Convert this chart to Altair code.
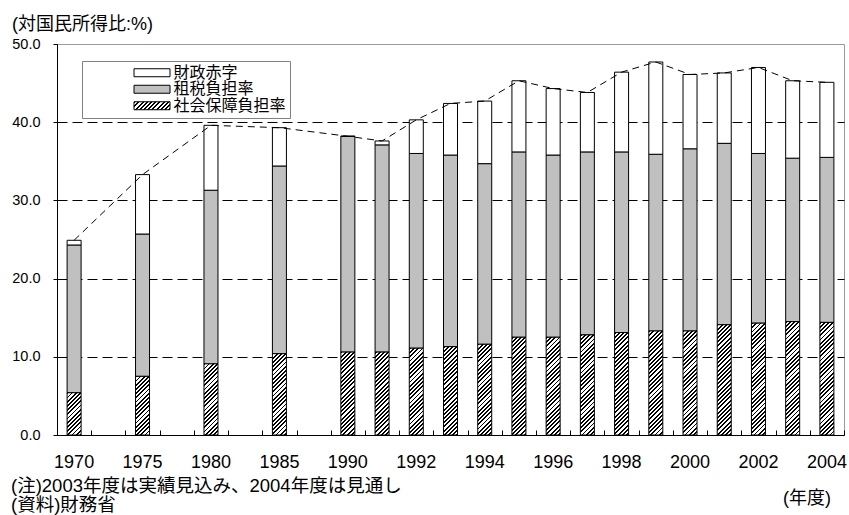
import json
import altair as alt

# ---------------- data ----------------
years = ["1970", "1975", "1980", "1985", "1990", "1991", "1992", "1993", "1994",
         "1995", "1996", "1997", "1998", "1999", "2000", "2001", "2002", "2003", "2004"]
social = [5.4, 7.5, 9.1, 10.4, 10.6, 10.6, 11.1, 11.3, 11.6, 12.5, 12.5, 12.8,
          13.1, 13.3, 13.3, 14.1, 14.3, 14.5, 14.4]
tax = [18.9, 18.2, 22.2, 24.0, 27.6, 26.5, 24.9, 24.5, 23.1, 23.7, 23.3, 23.4,
       23.1, 22.6, 23.3, 23.2, 21.7, 20.9, 21.1]
deficit = [0.6, 7.6, 8.3, 4.9, 0.0, 0.5, 4.3, 6.6, 8.0, 9.1, 8.5, 7.6,
           10.2, 11.8, 9.5, 9.0, 11.0, 9.9, 9.6]

# category slots on the x axis (empty slots between the 5-year steps)
slots = ["1970", "g1", "1975", "g2", "1980", "g3", "1985", "g4", "1990", "1991",
         "1992", "1993", "1994", "1995", "1996", "1997", "1998", "1999", "2000",
         "2001", "2002", "2003", "2004"]
shown_labels = ["1970", "1975", "1980", "1985", "1990", "1992", "1994", "1996",
                "1998", "2000", "2002", "2004"]
series_names = ["財政赤字", "租税負担率", "社会保障負担率"]

title_text = "(対国民所得比:%)"
note1 = "(注)2003年度は実績見込み、2004年度は見通し"
note2 = "(資料)財務省"
unit_text = "(年度)"

# ---------------- layout / style ----------------
PLOT_W, PLOT_H = 787, 391
Y_MAX = 50
BAR_W = 14
FONT = "Liberation Sans, Noto Sans CJK JP"
PX_PER_UNIT = PLOT_H / Y_MAX


def hatch_gradient(w, h, period=4.2, frac=0.45):
    """Diagonal '/' stripes as a linear gradient in bounding-box units."""
    L = w + h
    c = L / (w * w + h * h)
    stops = []
    k = 0
    while k * period < L:
        o0 = min(k * period / L, 1.0)
        o1 = min((k + frac) * period / L, 1.0)
        o2 = min((k + 1) * period / L, 1.0)
        stops += [{"offset": round(o0, 4), "color": "black"},
                  {"offset": round(o1, 4), "color": "black"},
                  {"offset": round(o1, 4), "color": "white"},
                  {"offset": round(o2, 4), "color": "white"}]
        k += 1
    return {"gradient": "linear", "x1": 0, "y1": 0,
            "x2": round(c * w, 5), "y2": round(c * h, 5), "stops": stops}


stack_rows, hatch_rows, line_rows = [], [], []
for yr, s, t, d in zip(years, social, tax, deficit):
    stack_rows.append({"slot": yr, "series": series_names[1], "y0": s, "y1": s + t})
    stack_rows.append({"slot": yr, "series": series_names[0], "y0": s + t, "y1": s + t + d})
    hatch_rows.append({"slot": yr, "y0": 0, "y1": s,
                       "grad": hatch_gradient(BAR_W, s * PX_PER_UNIT)})
    line_rows.append({"slot": yr, "total": s + t + d})

legend_hatch = json.dumps(hatch_gradient(36, 8))

xscale = alt.Scale(domain=slots, paddingInner=0, paddingOuter=0)
yscale = alt.Scale(domain=[0, Y_MAX], nice=False, zero=True)

label_expr = "indexof(%s, datum.value) >= 0 ? datum.value : ''" % json.dumps(shown_labels)

x_axis = alt.Axis(orient="bottom", title=None, labelExpr=label_expr, ticks=False,
                  tickSize=0, labelPadding=18, labelFontSize=18, labelFont=FONT,
                  labelColor="black", labelAngle=0, labelOverlap=False,
                  domainColor="black", domainWidth=1, grid=False)

tick_axis = alt.Axis(orient="top", offset=-PLOT_H, title=None, labels=False,
                     domain=False, grid=False, ticks=True, tickSize=5,
                     tickColor="black", tickBand="extent")

y_axis = alt.Axis(values=[0, 10, 20, 30, 40, 50], format=".1f", title=None,
                  labelFontSize=14.5, labelFont=FONT, labelColor="black",
                  tickSize=4, tickColor="black", labelPadding=13,
                  domainColor="black", grid=True, gridColor="black",
                  gridDash=[10, 5],
                  gridOpacity={"condition": {"test": "datum.value === 0 || datum.value === 50",
                                             "value": 0}, "value": 1})

legend = alt.Legend(orient="none", legendX=25, legendY=17, direction="vertical",
                    title=None, fillColor="white", strokeColor="#808080",
                    padding=4, symbolType="M-1,-0.222H1V0.222H-1Z",
                    symbolSize=1296, symbolStrokeColor="black",
                    symbolStrokeWidth=1, symbolOffset=47.5, labelOffset=3,
                    labelFontSize=16, labelFont=FONT, labelColor="black",
                    labelLimit=400, clipHeight=15.5, rowPadding=-0.5,
                    labelExpr="datum.label + '\u3000\u3000\u3000'")

bars = alt.Chart(alt.Data(values=stack_rows)).mark_bar(
    size=BAR_W, stroke="black", strokeWidth=1
).encode(
    x=alt.X("slot:O", scale=xscale, axis=x_axis),
    y=alt.Y("y0:Q", scale=yscale, axis=y_axis),
    y2="y1:Q",
    fill=alt.Fill("series:N",
                  scale=alt.Scale(domain=series_names,
                                  range=["white", "#c0c0c0", {"expr": legend_hatch}]),
                  legend=legend),
)

hatch = alt.Chart(alt.Data(values=hatch_rows)).mark_bar(
    size=BAR_W, stroke="black", strokeWidth=1
).encode(
    x=alt.X("slot:O", scale=xscale, axis=None),
    y=alt.Y("y0:Q", scale=yscale, axis=y_axis),
    y2="y1:Q",
    fill=alt.Fill("grad:N", scale=None, legend=None),
)

line = alt.Chart(alt.Data(values=line_rows)).mark_line(
    color="black", strokeWidth=1, strokeDash=[7, 5]
).encode(
    x=alt.X("slot:O", scale=xscale, axis=tick_axis),
    y=alt.Y("total:Q", scale=yscale, axis=y_axis),
)


def text_layer(txt, x, y, align="left", size=18):
    return alt.Chart(alt.Data(values=[{}])).mark_text(
        text=txt, align=align, baseline="alphabetic", fontSize=size,
        font=FONT, color="black"
    ).encode(x=alt.value(x), y=alt.value(y))


chart = alt.layer(
    bars, hatch, line,
    text_layer(title_text, -45, -14),
    text_layer(note1, -46, 448, size=18.5),
    text_layer(note2, -46, 467, size=18.5),
    text_layer(unit_text, 774, 460, align="right"),
).resolve_axis(x="independent").properties(
    width=PLOT_W, height=PLOT_H,
    autosize=alt.AutoSizeParams(type="none"),
    padding={"left": 57, "top": 44, "right": 5, "bottom": 80},
).configure_view(stroke="#999999", strokeWidth=1)

chart.save("out.html", embed_options={"renderer": "svg", "actions": False})
